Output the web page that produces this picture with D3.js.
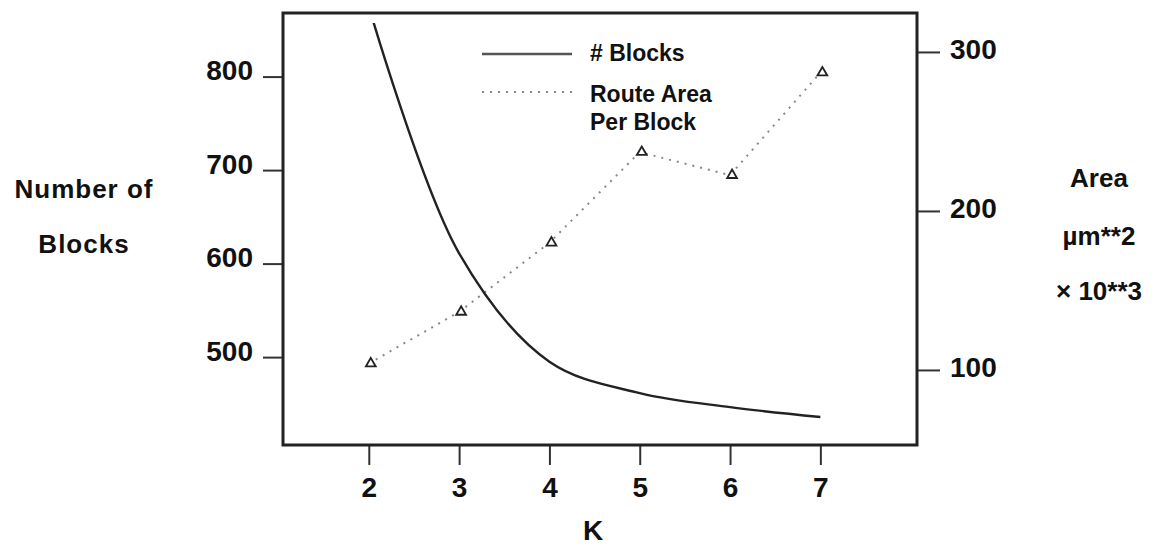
<!DOCTYPE html>
<html>
<head>
<meta charset="utf-8">
<script src="https://cdn.jsdelivr.net/npm/d3@7"></script>
<style>
  body { margin: 0; background: #fff; }
  text { font-family: "Liberation Sans", Arial, sans-serif; font-weight: bold; fill: #111; }
</style>
</head>
<body>
<div id="chart"></div>
<script>
// data
var kValues = [2, 3, 4, 5, 6, 7];
var blocks = [875, 611, 495, 461.5, 446.5, 436];
var routeArea = [104, 136.5, 180, 237, 222.5, 287];
var leftTicks = [500, 600, 700, 800];
var rightTicks = [100, 200, 300];

var svgWidth = 1152;
var svgHeight = 548;
var frame = {left: 283, right: 917, top: 13, bottom: 445};

var svg = d3.select("#chart")
  .append("svg")
  .attr("width", svgWidth)
  .attr("height", svgHeight);

// scales
var x = d3.scaleLinear().domain([1.05, 8.07]).range([frame.left, frame.right]);
var yLeft = d3.scaleLinear().domain([406, 868]).range([frame.bottom, frame.top]);
var yRight = d3.scaleLinear().domain([52.8, 324.5]).range([frame.bottom, frame.top]);

// axes
var left = svg.append("g")
  .attr("transform", `translate(${frame.left},0)`)
  .call(d3.axisLeft(yLeft).tickValues(leftTicks).tickSize(20).tickPadding(10).tickFormat(d3.format("d")));

var right = svg.append("g")
  .attr("transform", `translate(${frame.right},0)`)
  .call(d3.axisRight(yRight).tickValues(rightTicks).tickSize(23).tickPadding(10).tickFormat(d3.format("d")));

var bottom = svg.append("g")
  .attr("transform", `translate(0,${frame.bottom})`)
  .call(d3.axisBottom(x).tickValues(kValues).tickSize(20).tickPadding(12).tickFormat(d3.format("d")));

[left, right, bottom].forEach(function(g) {
  g.select(".domain").remove();
  g.selectAll(".tick line").attr("stroke", "#333").attr("stroke-width", 2);
  g.selectAll(".tick text").style("font-size", "28px").attr("fill", "#111");
});
left.selectAll(".tick text").attr("dy", "0.12em");
right.selectAll(".tick text").attr("dy", "0.22em");

// frame
svg.append("rect")
  .attr("x", frame.left)
  .attr("y", frame.top)
  .attr("width", frame.right - frame.left)
  .attr("height", frame.bottom - frame.top)
  .attr("fill", "none")
  .attr("stroke", "#222")
  .attr("stroke-width", 3);

svg.append("clipPath").attr("id", "plotClip")
  .append("rect")
  .attr("x", frame.left)
  .attr("y", frame.top + 10)
  .attr("width", frame.right - frame.left)
  .attr("height", frame.bottom - frame.top - 10);

// route area per block (dotted, right axis)
var areaLine = d3.line()
  .x((d, i) => x(kValues[i]))
  .y(d => yRight(d));

svg.append("path")
  .datum(routeArea)
  .attr("d", areaLine)
  .attr("fill", "none")
  .attr("stroke", "#888")
  .attr("stroke-width", 2)
  .attr("stroke-dasharray", "2,6");

svg.selectAll(".tri")
  .data(routeArea)
  .enter()
  .append("path")
  .attr("class", "tri")
  .attr("transform", (d, i) => `translate(${x(kValues[i]) + 2},${yRight(d)})`)
  .attr("d", d3.symbol(d3.symbolTriangle).size(42))
  .attr("fill", "#fff")
  .attr("stroke", "#222")
  .attr("stroke-width", 1.8);

// number of blocks (solid, left axis)
var blockLine = d3.line()
  .x((d, i) => x(kValues[i]))
  .y(d => yLeft(d))
  .curve(d3.curveCatmullRom.alpha(0.5));

svg.append("path")
  .datum(blocks)
  .attr("d", blockLine)
  .attr("clip-path", "url(#plotClip)")
  .attr("fill", "none")
  .attr("stroke", "#222")
  .attr("stroke-width", 2.4);

// legend
svg.append("line")
  .attr("x1", 482).attr("x2", 572).attr("y1", 54).attr("y2", 54)
  .attr("stroke", "#555").attr("stroke-width", 2.5);
svg.append("line")
  .attr("x1", 482).attr("x2", 572).attr("y1", 92).attr("y2", 92)
  .attr("stroke", "#888").attr("stroke-width", 2).attr("stroke-dasharray", "2,6");

var legendText = [["# Blocks", 61], ["Route Area", 102], ["Per Block", 130]];
svg.selectAll(".legend")
  .data(legendText)
  .enter()
  .append("text")
  .attr("x", 590)
  .attr("y", d => d[1])
  .style("font-size", "23px")
  .text(d => d[0]);

// axis titles
var leftTitle = [["Number of", 198], ["Blocks", 253]];
svg.selectAll(".ltitle")
  .data(leftTitle)
  .enter()
  .append("text")
  .attr("x", 84)
  .attr("y", d => d[1])
  .attr("text-anchor", "middle")
  .style("font-size", "26px")
  .style("letter-spacing", "1px")
  .text(d => d[0]);

var rightTitle = [["Area", 187], ["µm**2", 245], ["× 10**3", 300]];
svg.selectAll(".rtitle")
  .data(rightTitle)
  .enter()
  .append("text")
  .attr("x", 1099)
  .attr("y", d => d[1])
  .attr("text-anchor", "middle")
  .style("font-size", "26px")
  .text(d => d[0]);

svg.append("text")
  .attr("x", 593)
  .attr("y", 540)
  .attr("text-anchor", "middle")
  .style("font-size", "28px")
  .text("K");
</script>
</body>
</html>
